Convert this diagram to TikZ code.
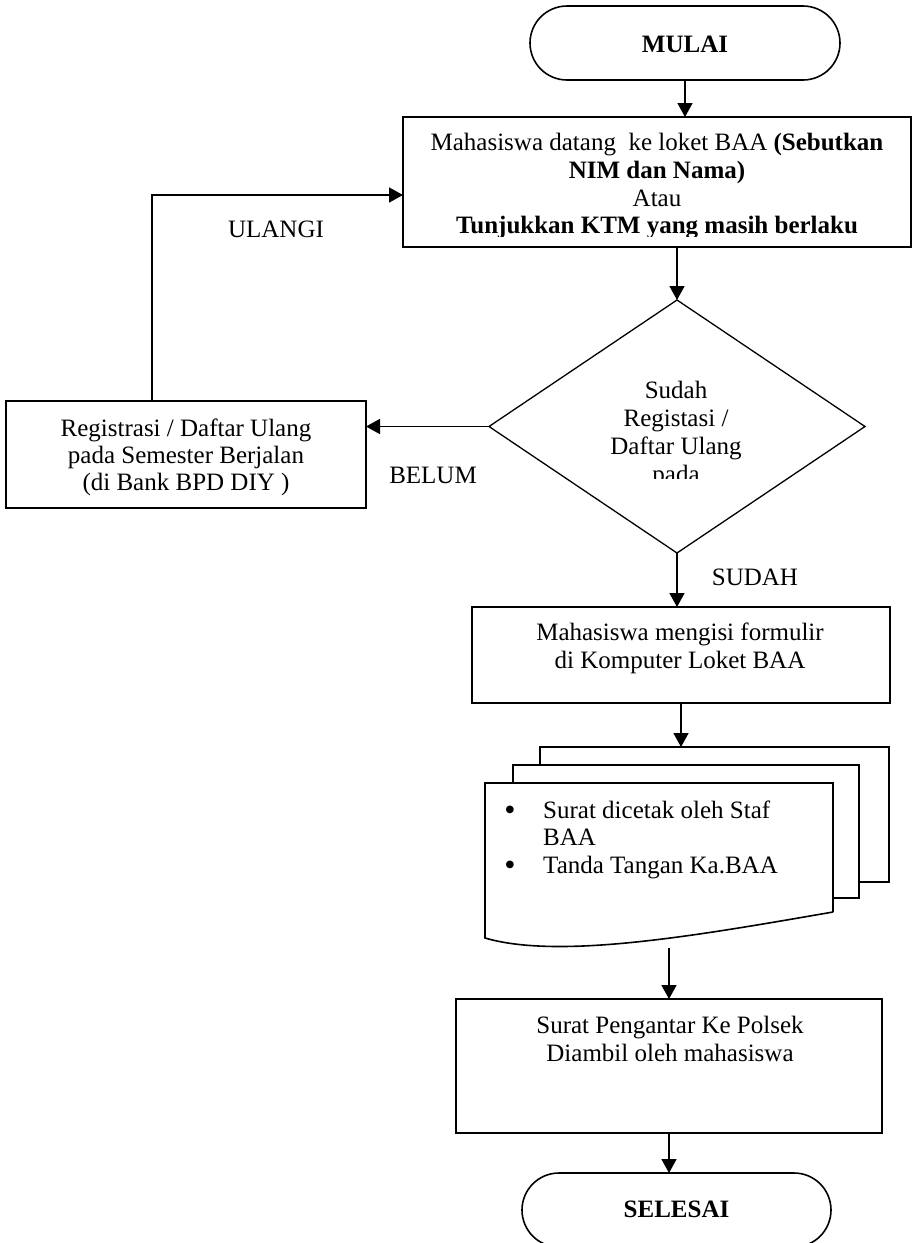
\documentclass[tikz,border=0pt]{standalone}
\usepackage{fontspec}
\setmainfont{Liberation Serif}
\usetikzlibrary{shapes.geometric,shapes.misc,arrows.meta}

\tikzset{
  terminal/.style={rounded rectangle, draw, line width=1.6pt, inner sep=0pt, outer sep=0pt, minimum height=74pt},
  process/.style={rectangle, draw, line width=1.6pt, inner sep=0pt, outer sep=0pt},
  decision/.style={diamond, draw, line width=1.3pt, inner sep=0pt, outer sep=0pt},
  ghost/.style={rectangle, inner sep=0pt, outer sep=0pt},
  sheet/.style={line width=1.6pt, line join=miter},
  flow/.style={-{Triangle[length=14pt,width=15pt]}, line width=1.6pt},
  txt/.style={anchor=base, inner sep=0pt, font=\fontsize{25}{28}\selectfont},
  lefttxt/.style={txt, anchor=base west},
  dot/.style={txt, font=\fontsize{32}{28}\selectfont}
}

\begin{document}
\begin{tikzpicture}[x=1pt,y=-1pt]
\useasboundingbox (0,0) rectangle (912,1243);
\fill[white] (0,0) rectangle (912,1243);
\begin{scope}
\clip (0,0) rectangle (912,1243);

% shapes
\node[terminal, minimum width=310pt] (start) at (685,43) {};
\node[process, minimum width=508pt, minimum height=130pt] (s1) at (657,182) {};
\node[decision, minimum width=376pt, minimum height=253pt] (dec) at (677,426.5) {};
\node[process, minimum width=360pt, minimum height=107pt] (reg) at (186,454.5) {};
\node[process, minimum width=418pt, minimum height=96pt] (form) at (681,655) {};
\node[process, minimum width=426pt, minimum height=134pt] (pickup) at (669,1066) {};
\node[terminal, minimum width=309pt] (finish) at (676.5,1210) {};

% multi-document symbol
\node[ghost, minimum width=349pt, minimum height=135pt] (back) at (714.5,814.5) {};
\node[ghost, minimum width=348pt, minimum height=155pt] (docs) at (659,860.5) {};
\draw[sheet] (540,765) -- (540,747) -- (889,747) -- (889,882) -- (859,882);
\draw[sheet] (513,783) -- (513,765) -- (859,765) -- (859,898) -- (833,898);
\draw[sheet] (833,912) -- (833,783) -- (485,783) -- (485,938)
  .. controls (560,960) and (700,935) .. (833,912);
\coordinate (wave) at (669,948);
\coordinate (loop) at (152,195);

% connectors
\draw[flow] (start.south) -- (start.south |- s1.north);
\draw[flow] (s1.south -| dec.north) -- (dec.north);
\draw[flow] (dec.west) -- (reg.east |- dec.west);
\draw[flow] (reg.north -| loop) |- (s1.west |- loop);
\draw[flow] (dec.south) -- (dec.south |- form.north);
\draw[flow] (form.south) -- (form.south |- back.north);
\draw[flow] (wave) -- (wave |- pickup.north);
\draw[flow] (pickup.south) -- (pickup.south |- finish.north);

% texts
\node[txt] (tstart) at (685,52.5) {\textbf{MULAI}};
\begin{scope}
\clip (403,117) rectangle (911,236);
\node[txt] (t1a) at (657,150) {Mahasiswa datang\ \ ke loket BAA \textbf{(Sebutkan}};
\node[txt] (t1b) at (657,178) {\textbf{NIM dan Nama)}};
\node[txt] (t1c) at (657,206) {Atau};
\node[txt] (t1d) at (657,233) {\textbf{Tunjukkan KTM yang masih berlaku}};
\end{scope}
\begin{scope}
\clip (489,300) rectangle (865,478);
\node[txt] (t2a) at (676,398) {Sudah};
\node[txt] (t2b) at (676,426) {Registasi /};
\node[txt] (t2c) at (676,454) {Daftar Ulang};
\node[txt] (t2d) at (676,482) {pada};
\end{scope}
\node[txt] (t3a) at (186,436) {Registrasi / Daftar Ulang};
\node[txt] (t3b) at (186,463) {pada Semester Berjalan};
\node[txt] (t3c) at (186,490) {(di Bank BPD DIY )};
\node[txt] (lulangi) at (276,237) {ULANGI};
\node[txt] (lbelum) at (433,483) {BELUM};
\node[txt] (lsudah) at (755,585) {SUDAH};
\node[txt] (t4a) at (680,640) {Mahasiswa mengisi formulir};
\node[txt] (t4b) at (680,668) {di Komputer Loket BAA};
\node[dot] (b1) at (510,820) {\textbullet};
\node[lefttxt] (t5a) at (543,818) {Surat dicetak oleh Staf};
\node[lefttxt] (t5b) at (543,845) {BAA};
\node[dot] (b2) at (510,875) {\textbullet};
\node[lefttxt] (t5c) at (543,873) {Tanda Tangan Ka.BAA};
\node[txt] (t6a) at (670,1033) {Surat Pengantar Ke Polsek};
\node[txt] (t6b) at (670,1061) {Diambil oleh mahasiswa};
\node[txt] (tfinish) at (676.5,1217) {\textbf{SELESAI}};
\end{scope}
\end{tikzpicture}
\end{document}
